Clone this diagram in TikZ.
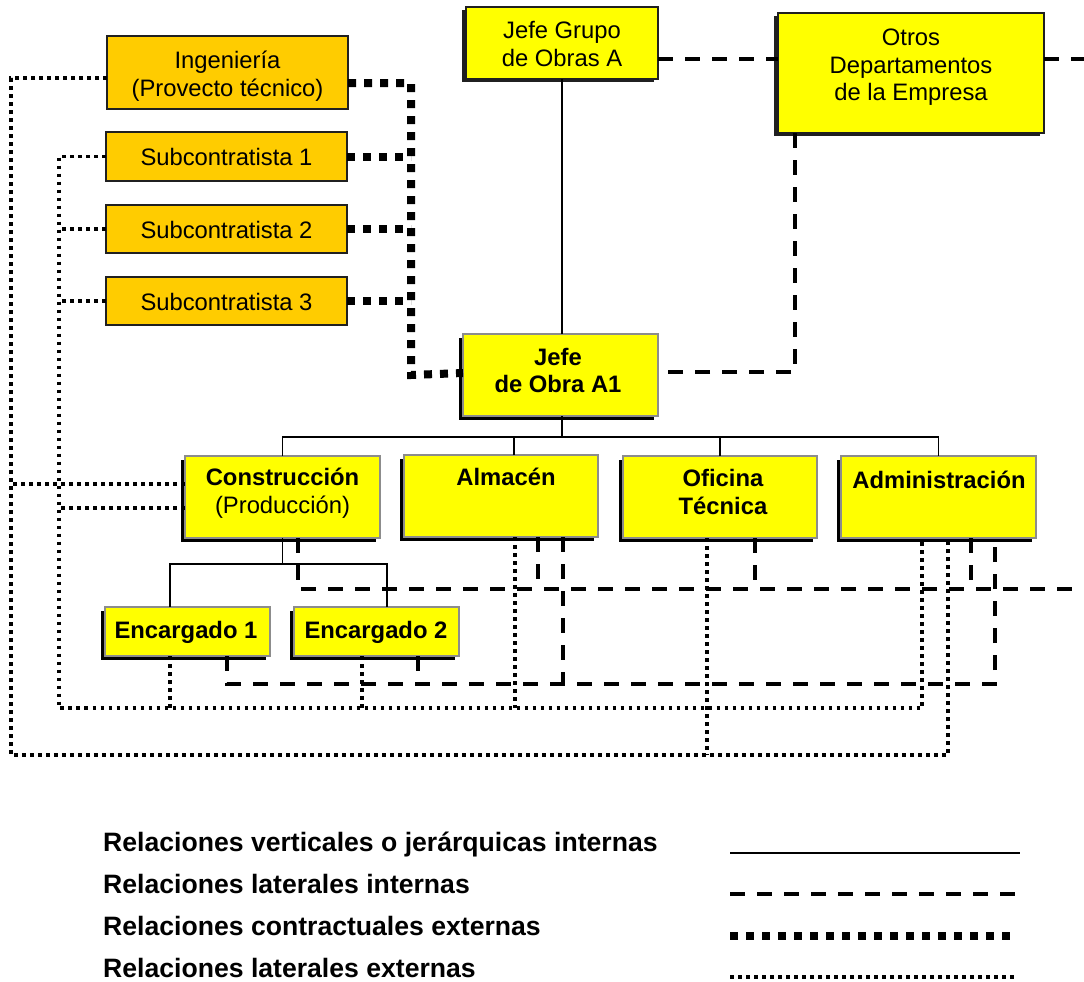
\documentclass[tikz,border=0pt]{standalone}
\usepackage{fontspec}
\setmainfont{Liberation Sans}
\usetikzlibrary{calc}
\definecolor{boxyellow}{HTML}{FFFF00}
\definecolor{boxorange}{HTML}{FFCC00}
\definecolor{edgegray}{HTML}{8C8C8C}
\definecolor{edgedark}{HTML}{202020}
\begin{document}
\begin{tikzpicture}[x=1pt,y=-1pt,
  shadowed/.style={preaction={fill=black, transform canvas={xshift=-4pt,yshift=-4pt}}},
  unit/.style={draw=edgegray, line width=1.3pt, fill=boxyellow, inner sep=0pt, outer sep=0pt, anchor=north west, shadowed},
  topunit/.style={draw=edgedark, line width=1.3pt, fill=boxyellow, inner sep=0pt, outer sep=0pt, anchor=north west,
    preaction={fill=edgedark, transform canvas={xshift=-4pt,yshift=-3pt}}},
  extunit/.style={draw=edgedark, line width=1.3pt, fill=boxorange, inner sep=0pt, outer sep=0pt, anchor=north west},
  btext/.style={anchor=base, align=center, inner sep=0pt, font=\fontsize{23.8}{27.5}\selectfont},
  bbtext/.style={btext, font=\fontsize{23.8}{27.5}\selectfont\bfseries},
  legtext/.style={anchor=base west, inner sep=0pt, font=\fontsize{26.6}{30}\selectfont\bfseries},
  hier/.style={line width=1.4pt},
  lat/.style={line width=4pt, dash pattern=on 15pt off 12pt},
  contr/.style={line width=8pt, dash pattern=on 8pt off 8pt},
  ext/.style={line width=3.6pt, dash pattern=on 3.6pt off 4.4pt},
]
\useasboundingbox (0,0) rectangle (1084,982);

% external parties (orange)
\node[extunit, minimum width=241pt, minimum height=73pt] (ing) at (107,36) {};
\node[extunit, minimum width=241pt, minimum height=49pt] (sub1) at (106,132) {};
\node[extunit, minimum width=241pt, minimum height=48pt] (sub2) at (106,205) {};
\node[extunit, minimum width=241pt, minimum height=48pt] (sub3) at (106,277) {};

% company units (yellow)
\node[topunit, minimum width=192pt, minimum height=72pt] (jga) at (466,7) {};
\node[topunit, minimum width=266pt, minimum height=120pt] (otros) at (778,13) {};
\node[unit, minimum width=195pt, minimum height=82pt] (jo) at (463,334) {};
\node[unit, minimum width=195pt, minimum height=82pt] (cons) at (185,456) {};
\node[unit, minimum width=194pt, minimum height=82pt] (alm) at (404,455) {};
\node[unit, minimum width=194pt, minimum height=82pt] (ofi) at (623,456) {};
\node[unit, minimum width=195pt, minimum height=82pt] (adm) at (841,456) {};
\node[unit, minimum width=165pt, minimum height=49pt] (enc1) at (105,607) {};
\node[unit, minimum width=165pt, minimum height=49pt] (enc2) at (294,607) {};

% labels (multi-line labels sit on the baseline of their last line)
\node[btext] (ing-t) at (227.5,96) {Ingeniería\\(Provecto técnico)};
\node[btext] (sub1-t) at (226.5,165.5) {Subcontratista 1};
\node[btext] (sub2-t) at (226.5,238) {Subcontratista 2};
\node[btext] (sub3-t) at (226.5,310) {Subcontratista 3};
\node[btext] (jga-t) at (562,66.5) {Jefe Grupo\\de Obras A};
\node[btext] (otros-t) at (911,100.5) {Otros\\Departamentos\\de la Empresa};
\node[bbtext] (jo-t) at (558,392.5) {Jefe\\de Obra A1};
\node[btext] (cons-t) at (282.5,513) {\textbf{Construcción}\\(Producción)};
\node[bbtext] (alm-t) at (506,485) {Almacén};
\node[bbtext] (ofi-t) at (723,514) {Oficina\\Técnica};
\node[bbtext] (adm-t) at (939,488) {Administración};
\node[bbtext] (enc1-t) at (186,638) {Encargado 1};
\node[bbtext] (enc2-t) at (376,638) {Encargado 2};

% reference coordinates for buses and loose ends
\coordinate (busA) at (562,437);
\coordinate (busB) at (282.5,564);
\coordinate (edgeA) at (1084,59);
\coordinate (edgeB) at (1084,589);
\coordinate (dashC) at (0,684);
\coordinate (contrX) at (411,0);
\coordinate (outerC) at (11,755);
\coordinate (innerC) at (59,708);

% vertical / hierarchical relations
\draw[hier] (jga.south) -- (jga.south |- jo.north);
\draw[hier] (jga.south |- jo.south) -- (busA);
\draw[hier] (cons.north) |- (busA) -| (adm.north);
\draw[hier] ([xshift=13pt]alm.north) -- ([xshift=13pt]alm.north |- busA);
\draw[hier] (ofi.north) -- (ofi.north |- busA);
\draw[hier] (cons.south) -- (busB);
\draw[hier] ([xshift=-17.5pt]enc1.north) |- (busB) -| ([xshift=10.5pt]enc2.north);

% lateral internal relations
\draw[lat] (jga.east |- edgeA) -- (otros.west |- edgeA);
\draw[lat] (otros.east |- edgeA) -- (edgeA);
\draw[lat] ([xshift=17pt]otros.south west) |- ([yshift=3pt]jo.east);
\draw[lat] ([xshift=15.5pt]cons.south) |- (edgeB);
\draw[lat] ([xshift=37pt]alm.south) -- ([xshift=37pt]alm.south |- edgeB);
\draw[lat] ([xshift=35pt]ofi.south) -- ([xshift=35pt]ofi.south |- edgeB);
\draw[lat] ([xshift=32.5pt]adm.south) -- ([xshift=32.5pt]adm.south |- edgeB);
\draw[lat] ([xshift=39.5pt]enc1.south) |- ([xshift=56.5pt]adm.south |- dashC) -- ([xshift=56.5pt]adm.south);
\draw[lat] ([xshift=41.5pt]enc2.south) -- ([xshift=41.5pt]enc2.south |- dashC);
\draw[lat] ([xshift=62pt]alm.south) -- ([xshift=62pt]alm.south |- dashC);

% contractual external relations
\draw[contr] ([yshift=-10.5pt]ing.east) -| (contrX |- jo.west) -- ([yshift=2pt]jo.west);
\draw[contr] (sub1.east) -- (sub1.east -| contrX);
\draw[contr] (sub2.east) -- (sub2.east -| contrX);
\draw[contr] (sub3.east) -- (sub3.east -| contrX);

% lateral external relations
\draw[ext] ([yshift=-5.5pt]ing.west) -| (outerC) -| ([xshift=9.5pt]adm.south);
\draw[ext] ([yshift=13pt]cons.west) -- ([yshift=13pt]cons.west -| outerC);
\draw[ext] ([xshift=-13pt]ofi.south) -- ([xshift=-13pt]ofi.south |- outerC);
\draw[ext] (sub1.west) -| (innerC) -| ([xshift=-16.5pt]adm.south);
\draw[ext] (sub2.west) -- (sub2.west -| innerC);
\draw[ext] (sub3.west) -- (sub3.west -| innerC);
\draw[ext] ([yshift=-11pt]cons.west) -- ([yshift=-11pt]cons.west -| innerC);
\draw[ext] ([xshift=-17.5pt]enc1.south) -- ([xshift=-17.5pt]enc1.south |- innerC);
\draw[ext] ([xshift=-14.5pt]enc2.south) -- ([xshift=-14.5pt]enc2.south |- innerC);
\draw[ext] ([xshift=14pt]alm.south) -- ([xshift=14pt]alm.south |- innerC);

% legend
\node[legtext] (leg1) at (103,851) {Relaciones verticales o jerárquicas internas};
\node[legtext] (leg2) at (103,893) {Relaciones laterales internas};
\node[legtext] (leg3) at (103,935) {Relaciones contractuales externas};
\node[legtext] (leg4) at (103,977) {Relaciones laterales externas};
\coordinate (l1a) at (730,852.5); \coordinate (l1b) at (1020,852.5);
\coordinate (l2a) at (730,894);   \coordinate (l2b) at (1019,894);
\coordinate (l3a) at (730,935.5); \coordinate (l3b) at (1011,935.5);
\coordinate (l4a) at (730,977);   \coordinate (l4b) at (1015,977);
\draw[hier, line width=2pt] (l1a) -- (l1b);
\draw[lat] (l2a) -- (l2b);
\draw[contr] (l3a) -- (l3b);
\draw[ext] (l4a) -- (l4b);
\end{tikzpicture}
\end{document}
